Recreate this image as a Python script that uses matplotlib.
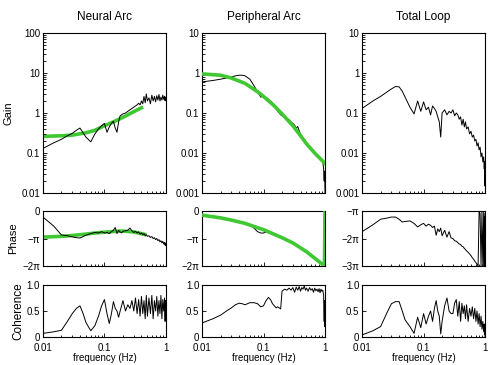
import numpy as np
import matplotlib.pyplot as plt
from matplotlib.ticker import NullFormatter

plt.rcParams['font.family'] = ['Liberation Sans', 'DejaVu Sans']

# frequency grid (Hz) shared by the measured curves
freq = [0.01, 0.015, 0.02, 0.025, 0.03, 0.035, 0.04, 0.045, 0.05,
        0.06, 0.07, 0.08, 0.09, 0.10, 0.11, 0.12, 0.13, 0.14, 0.15,
        0.16, 0.17, 0.18, 0.19, 0.20, 0.22, 0.24, 0.26, 0.28, 0.30,
        0.32, 0.34, 0.36, 0.38, 0.40, 0.42, 0.44, 0.46, 0.48, 0.50,
        0.53, 0.56, 0.59, 0.62, 0.65, 0.68, 0.71, 0.74, 0.77, 0.80,
        0.83, 0.86, 0.89, 0.92, 0.95, 0.97, 0.98, 0.99, 1.0]

# gain
neural_gain = [0.13, 0.18, 0.22, 0.27, 0.31, 0.37, 0.42, 0.32, 0.25,
               0.19, 0.30, 0.40, 0.48, 0.55, 0.33, 0.45, 0.55, 0.62, 0.42,
               0.33, 0.60, 0.85, 0.90, 0.95, 1.0, 1.1, 1.2, 1.3, 1.4,
               1.5, 1.6, 1.75, 1.6, 2.0, 1.7, 2.6, 1.8, 3.0, 2.0,
               2.4, 1.7, 2.8, 2.0, 2.6, 1.9, 2.7, 2.1, 2.9, 2.0,
               2.5, 2.1, 2.8, 2.2, 2.6, 2.0, 2.5, 2.1, 2.4]
periph_gain = [0.60, 0.65, 0.70, 0.75, 0.80, 0.85, 0.88, 0.88, 0.85,
               0.70, 0.48, 0.34, 0.25, 0.26, 0.24, 0.22, 0.20, 0.18, 0.15,
               0.13, 0.11, 0.10, 0.09, 0.085, 0.078, 0.072, 0.068, 0.060, 0.055,
               0.050, 0.042, 0.046, 0.036, 0.030, 0.027, 0.024, 0.022, 0.020, 0.018,
               0.016, 0.014, 0.013, 0.012, 0.011, 0.010, 0.0095, 0.009, 0.0085, 0.008,
               0.0075, 0.007, 0.0065, 0.006, 0.004, 0.002, 0.0035, 0.0025, 0.001]
total_gain = [0.13, 0.20, 0.26, 0.33, 0.40, 0.46, 0.45, 0.35, 0.25,
              0.14, 0.095, 0.20, 0.11, 0.19, 0.12, 0.14, 0.09, 0.15, 0.13,
              0.11, 0.08, 0.06, 0.025, 0.10, 0.12, 0.09, 0.11, 0.10, 0.12,
              0.085, 0.10, 0.09, 0.07, 0.08, 0.05, 0.07, 0.045, 0.06, 0.04,
              0.045, 0.030, 0.035, 0.025, 0.028, 0.020, 0.022, 0.015, 0.018, 0.012,
              0.014, 0.008, 0.010, 0.006, 0.008, 0.004, 0.006, 0.0015, 0.005]

# phase, in units of pi
neural_phase = [-0.22, -0.55, -0.87, -0.90, -0.94, -0.97, -0.98, -0.93, -0.88,
                -0.82, -0.78, -0.80, -0.75, -0.80, -0.78, -0.82, -0.75, -0.70, -0.60,
                -0.82, -0.70, -0.76, -0.80, -0.74, -0.72, -0.70, -0.62, -0.72, -0.78,
                -0.74, -0.80, -0.76, -0.84, -0.80, -0.86, -0.82, -0.90, -0.86, -0.92,
                -0.90, -0.96, -0.93, -1.00, -0.97, -1.04, -1.00, -1.08, -1.04, -1.12,
                -1.08, -1.16, -1.10, -1.20, -1.14, -1.24, -1.16, -1.26, -1.20]
periph_phase = [-0.15, -0.20, -0.25, -0.29, -0.33, -0.37, -0.40, -0.43, -0.46,
                -0.52, -0.62, -0.75, -0.80, -0.80, -0.76, -0.78, -0.82, -0.85, -0.88,
                -0.90, -0.92, -0.94, -0.96, -0.98, -1.02, -1.06, -1.10, -1.13, -1.17,
                -1.20, -1.23, -1.26, -1.29, -1.32, -1.35, -1.37, -1.40, -1.42, -1.45,
                -1.49, -1.53, -1.57, -1.61, -1.64, -1.68, -1.71, -1.75, -1.78, -1.81,
                -1.84, -1.87, -1.90, -1.93, -1.96, -1.98, -2.00, 0.00, -1.00]
total_phase = [-1.75, -1.50, -1.30, -1.26, -1.22, -1.22, -1.30, -1.40, -1.38,
               -1.36, -1.45, -1.58, -1.50, -1.45, -1.55, -1.48, -1.52, -1.60, -1.55,
               -1.88, -1.65, -1.75, -1.62, -1.90, -1.70, -1.95, -1.75, -1.98, -2.00,
               -2.08, -2.10, -2.15, -2.20, -2.22, -2.28, -2.30, -2.36, -2.40, -2.45,
               -2.50, -2.56, -2.62, -2.70, -2.75, -2.82, -2.88, -2.93, -3.00, -1.00,
               -1.10, -3.00, -1.00, -3.00, -1.00, -3.00, -1.20, -3.00, -1.10]

# coherence
neural_coh = [0.07, 0.10, 0.13, 0.30, 0.45, 0.55, 0.60, 0.45, 0.28,
              0.12, 0.22, 0.40, 0.60, 0.72, 0.45, 0.26, 0.45, 0.68, 0.55,
              0.50, 0.38, 0.50, 0.60, 0.70, 0.50, 0.62, 0.55, 0.70, 0.50,
              0.75, 0.45, 0.72, 0.40, 0.78, 0.45, 0.70, 0.35, 0.80, 0.40,
              0.75, 0.45, 0.80, 0.35, 0.70, 0.50, 0.78, 0.40, 0.70, 0.45,
              0.80, 0.35, 0.72, 0.50, 0.75, 0.30, 0.70, 0.45, 0.60]
periph_coh = [0.27, 0.35, 0.42, 0.50, 0.56, 0.62, 0.65, 0.64, 0.62,
              0.66, 0.66, 0.64, 0.58, 0.60, 0.70, 0.76, 0.72, 0.64, 0.60,
              0.56, 0.58, 0.56, 0.54, 0.88, 0.92, 0.90, 0.94, 0.90, 0.95,
              0.86, 0.96, 0.90, 0.97, 0.88, 0.95, 0.92, 0.98, 0.90, 0.94,
              0.88, 0.95, 0.90, 0.93, 0.86, 0.94, 0.89, 0.92, 0.87, 0.93,
              0.85, 0.92, 0.88, 0.90, 0.80, 0.30, 0.70, 0.20, 0.55]
total_coh = [0.04, 0.12, 0.20, 0.45, 0.64, 0.68, 0.68, 0.50, 0.33,
             0.20, 0.07, 0.38, 0.18, 0.45, 0.25, 0.40, 0.50, 0.30, 0.55,
             0.70, 0.50, 0.40, 0.06, 0.30, 0.60, 0.75, 0.50, 0.45, 0.45,
             0.65, 0.72, 0.40, 0.68, 0.30, 0.65, 0.45, 0.60, 0.35, 0.62,
             0.30, 0.55, 0.40, 0.58, 0.35, 0.55, 0.30, 0.50, 0.25, 0.45,
             0.20, 0.40, 0.15, 0.30, 0.10, 0.25, 0.05, 0.15, 0.00]

# model fits (green)
neural_fit_f = [0.01, 0.02, 0.03, 0.05, 0.07, 0.10, 0.15, 0.20, 0.30, 0.40]
neural_fit_gain = [0.26, 0.27, 0.28, 0.32, 0.37, 0.48, 0.63, 0.78, 1.08, 1.35]
neural_fit_phase_f = [0.01, 0.02, 0.03, 0.05, 0.07, 0.10, 0.15, 0.20, 0.30, 0.45]
neural_fit_phase = [-0.95, -0.92, -0.89, -0.84, -0.80, -0.77, -0.74, -0.73, -0.76, -0.85]
periph_fit_f = [0.01, 0.02, 0.03, 0.05, 0.08, 0.10, 0.15, 0.20, 0.30, 0.40, 0.50, 0.70, 1.0]
periph_fit_gain = [0.95, 0.88, 0.75, 0.55, 0.34, 0.26, 0.15, 0.095, 0.048, 0.027, 0.017, 0.0095, 0.0055]
periph_fit_phase_f = [0.01, 0.02, 0.03, 0.05, 0.10, 0.20, 0.30, 0.50, 0.70, 0.90, 0.98, 1.0]
periph_fit_phase = [-0.15, -0.25, -0.33, -0.45, -0.68, -0.97, -1.16, -1.48, -1.74, -1.93, -2.0, 0.0]

titles = ['Neural Arc', 'Peripheral Arc', 'Total Loop']
gains = [neural_gain, periph_gain, total_gain]
phases = [neural_phase, periph_phase, total_phase]
cohs = [neural_coh, periph_coh, total_coh]
green = '#3fc832'

fig = plt.figure(figsize=(4.88, 3.65), dpi=100)
lefts = [0.088, 0.414, 0.742]
w = 0.252


def style(ax, bottom_labels=False):
    ax.set_xscale('log')
    ax.set_xlim(0.01, 1)
    ax.set_xticks([0.01, 0.1, 1])
    ax.xaxis.set_minor_formatter(NullFormatter())
    if bottom_labels:
        ax.set_xticklabels(['0.01', '0.1', '1'])
        ax.set_xlabel('frequency (Hz)', fontsize=7, labelpad=-0.5)
    else:
        ax.set_xticklabels([])
    ax.tick_params(which='both', direction='in', top=False, right=False,
                   labelsize=7, pad=2, width=0.6)
    ax.tick_params(axis='x', pad=4.5)
    ax.tick_params(which='major', length=3)
    ax.tick_params(which='minor', length=1.8)
    for s in ax.spines.values():
        s.set_linewidth(0.8)


for i in range(3):
    x0 = lefts[i]
    ag = fig.add_axes([x0, 0.4712, w, 0.4384])
    ap = fig.add_axes([x0, 0.2712, w, 0.1507])
    ac = fig.add_axes([x0, 0.0767, w, 0.1425])

    # gain
    if i == 0:
        ag.plot(neural_fit_f, neural_fit_gain, color=green, lw=2.6, zorder=1)
    if i == 1:
        ag.plot(periph_fit_f, periph_fit_gain, color=green, lw=2.6, zorder=3)
    ag.plot(freq, gains[i], color='black', lw=0.7, zorder=2)
    ag.set_yscale('log')
    if i == 0:
        ag.set_ylim(0.01, 100)
        ag.set_yticks([0.01, 0.1, 1, 10, 100])
        ag.set_yticklabels(['0.01', '0.1', '1', '10', '100'])
        ag.set_ylabel('Gain', fontsize=8, labelpad=6)
    else:
        ag.set_ylim(0.001, 10)
        ag.set_yticks([0.001, 0.01, 0.1, 1, 10])
        ag.set_yticklabels(['0.001', '0.01', '0.1', '1', '10'])
    ag.yaxis.set_minor_formatter(NullFormatter())
    style(ag)
    ag.set_title(titles[i], fontsize=8.5, pad=9)

    # phase
    if i == 0:
        ap.plot(neural_fit_phase_f, np.array(neural_fit_phase) * np.pi,
                color=green, lw=2.6, zorder=1)
    if i == 1:
        ap.plot(periph_fit_phase_f, np.array(periph_fit_phase) * np.pi,
                color=green, lw=2.6, zorder=3)
    ap.plot(freq, np.array(phases[i]) * np.pi, color='black', lw=0.7, zorder=2)
    if i < 2:
        ap.set_ylim(-2 * np.pi, 0)
        ap.set_yticks([-2 * np.pi, -np.pi, 0])
        ap.set_yticklabels(['\u22122\u03c0', '\u2212\u03c0', '0'])
    else:
        ap.set_ylim(-3 * np.pi, -np.pi)
        ap.set_yticks([-3 * np.pi, -2 * np.pi, -np.pi])
        ap.set_yticklabels(['\u22123\u03c0', '\u22122\u03c0', '\u2212\u03c0'])
    if i == 0:
        ap.set_ylabel('Phase', fontsize=8, labelpad=3)
    style(ap)

    # coherence
    ac.plot(freq, cohs[i], color='black', lw=0.7)
    ac.set_ylim(0, 1)
    ac.set_yticks([0, 0.5, 1.0])
    ac.set_yticklabels(['0', '0.5', '1.0'])
    if i == 0:
        ac.set_ylabel('Coherence', fontsize=8.5, labelpad=2)
    style(ac, bottom_labels=True)

fig.savefig('out.png', dpi=100)
